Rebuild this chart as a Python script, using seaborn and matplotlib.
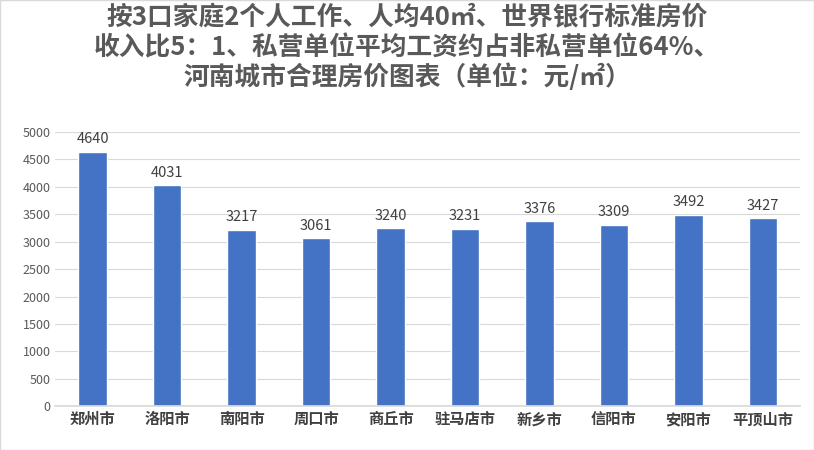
import matplotlib
matplotlib.use("Agg")
import matplotlib.pyplot as plt
import seaborn as sns
import pandas as pd

cities = ["郑州市","洛阳市","南阳市","周口市","商丘市","驻马店市","新乡市","信阳市","安阳市","平顶山市"]
prices = [4640,4031,3217,3061,3240,3231,3376,3309,3492,3427]
yticks = list(range(0,5001,500))

sns.set_theme(style="white")
plt.rcParams['font.family'] = ['Noto Sans CJK SC','DejaVu Sans']

fig = plt.figure(figsize=(8.14,4.5), dpi=100)
ax = fig.add_axes([0.068, 0.097, 0.915, 0.61])
df = pd.DataFrame({"city":cities,"price":prices})
sns.barplot(data=df, x="city", y="price", color="#4472C4", saturation=1, width=0.38, ax=ax)
ax.set_ylim(0,5000)
ax.set_yticks(yticks)
ax.yaxis.grid(True, color="#D9D9D9", lw=0.8)
ax.set_axisbelow(True)
for s in ["top","right","left"]:
    ax.spines[s].set_visible(False)
ax.spines["bottom"].set_color("#D9D9D9")
ax.tick_params(axis="y", labelsize=9, colors="#595959", length=0)
ax.tick_params(axis="x", labelsize=11, colors="#404040", length=0)
for lbl in ax.get_xticklabels():
    lbl.set_fontweight("bold")
ax.set_xlabel(""); ax.set_ylabel("")
for i,v in enumerate(prices):
    ax.text(i, v+100, str(v), ha="center", va="bottom", fontsize=10.5, color="#404040")
fig.text(0.5, 0.99, "按3口家庭2个人工作、人均40㎡、世界银行标准房价\n收入比5：1、私营单位平均工资约占非私营单位64%、\n河南城市合理房价图表（单位：元/㎡）",
         ha="center", va="top", fontsize=18.5, fontweight="bold", color="#595959", linespacing=1.12)
fig.patches.append(plt.Rectangle((0,0),1,1,transform=fig.transFigure,fill=False,edgecolor="#D9D9D9",lw=1))
fig.savefig("out.png", dpi=100)
